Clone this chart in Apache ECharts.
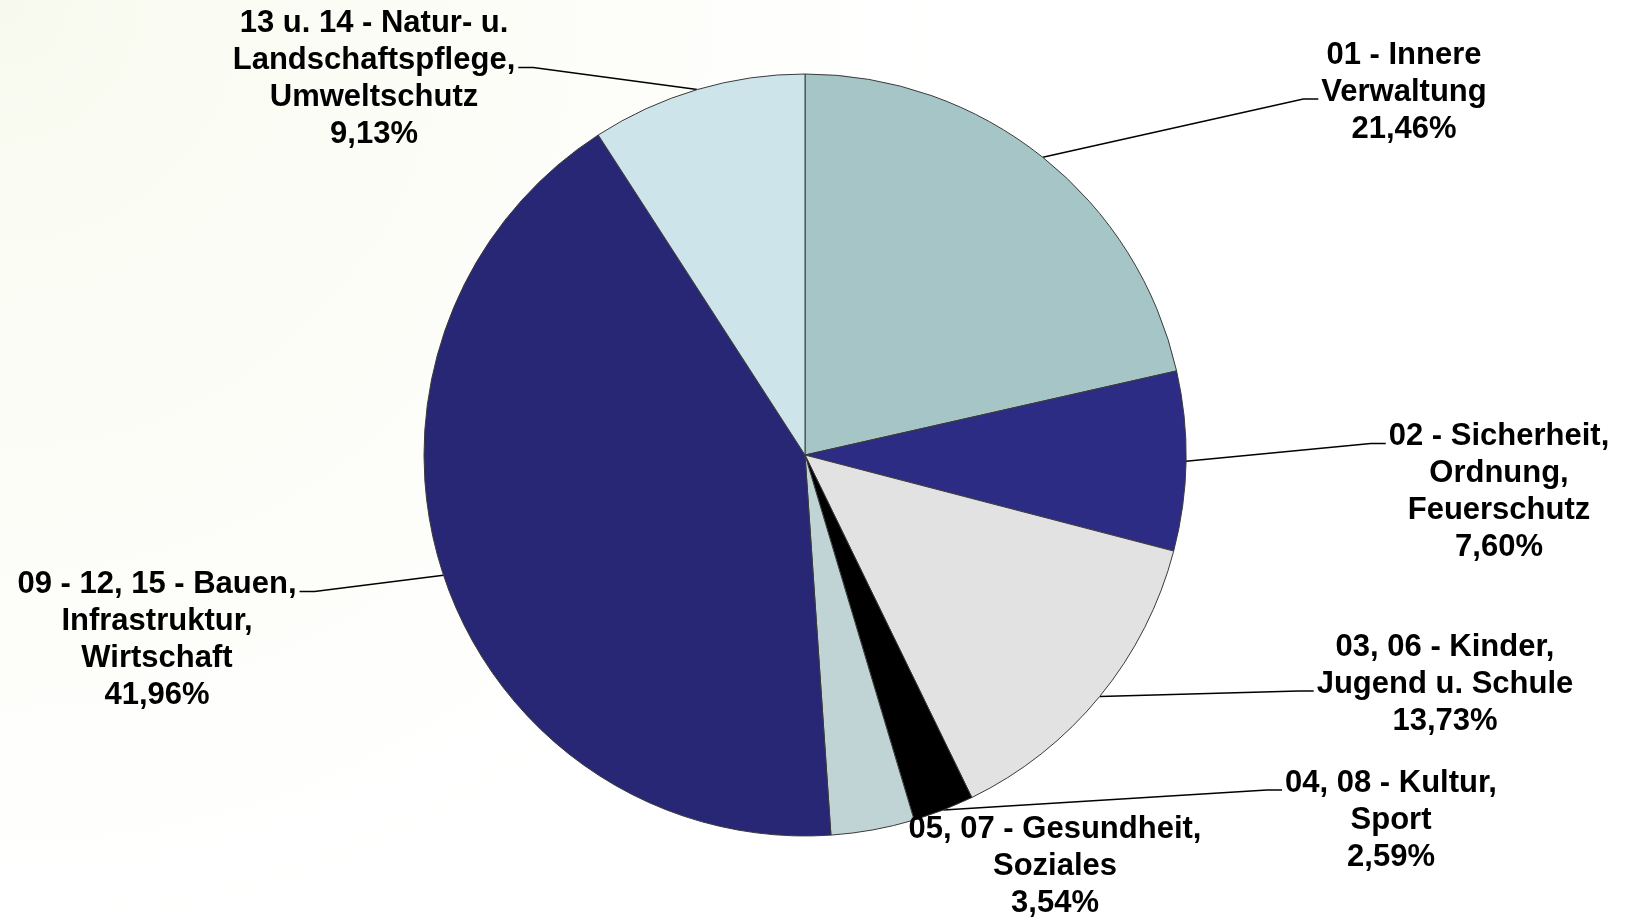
<!DOCTYPE html>
<html>
<head>
<meta charset="utf-8">
<script src="https://cdn.jsdelivr.net/npm/echarts@6/dist/echarts.min.js"></script>
<style>
html, body { margin: 0; padding: 0; }
#c { width: 1626px; height: 918px; background: radial-gradient(circle at 0% 0%, #f8f9ee 0%, #fcfdf7 25%, #ffffff 50%); }
</style>
</head>
<body>
<div id="c"></div>
<script>
// Categories (with the reference's line breaks) and their shares in percent
const categories = [
  '01 - Innere\nVerwaltung',
  '02 - Sicherheit,\nOrdnung,\nFeuerschutz',
  '03, 06 - Kinder,\nJugend u. Schule',
  '04, 08 - Kultur,\nSport',
  '05, 07 - Gesundheit,\nSoziales',
  '09 - 12, 15 - Bauen,\nInfrastruktur,\nWirtschaft',
  '13 u. 14 - Natur- u.\nLandschaftspflege,\nUmweltschutz'
];
const shares = [21.46, 7.60, 13.73, 2.59, 3.54, 41.96, 9.13];

// Styling
const sliceColors = ['#a5c5c7', '#2d2c84', '#e2e2e2', '#000000', '#c0d4d6', '#282776', '#cde5ea'];

// Label placement (centre of each label block), side where the leader attaches, and which text line
const labelCenters = [[1404, 92], [1499, 492], [1445, 684], [1391, 820], [1055, 866], [157, 640], [374, 79]];
const leaderSide = ['left', 'left', 'left', 'left', null, 'right', 'right'];
const leaderLineIdx = [1, 0, 1, 0, 0, 0, 1];
const LH = 37;

const chart = echarts.init(document.getElementById('c'), null, { renderer: 'canvas' });

const data = categories.map((name, i) => ({
  name: name,
  value: shares[i],
  itemStyle: { color: sliceColors[i] },
  labelLine: { show: leaderSide[i] !== null }
}));

chart.setOption({
  backgroundColor: 'transparent',
  animation: false,
  series: [{
    type: 'pie',
    center: [805, 455],
    radius: 381,
    startAngle: 90,
    clockwise: true,
    avoidLabelOverlap: false,
    data: data,
    itemStyle: { borderColor: '#3a3a3a', borderWidth: 1 },
    label: {
      show: true,
      position: 'outside',
      alignTo: 'none',
      color: '#000',
      fontSize: 31,
      fontWeight: 'bold',
      fontFamily: '"Liberation Sans", Arial, sans-serif',
      lineHeight: LH,
      align: 'center',
      formatter: p => p.name + '\n' + p.value.toFixed(2).replace('.', ',') + '%'
    },
    labelLine: {
      show: true,
      length: 20,
      length2: 20,
      smooth: false,
      lineStyle: { color: '#000', width: 1.5 }
    },
    emphasis: { disabled: true },
    labelLayout: function (p) {
      const i = p.dataIndex;
      const cx = labelCenters[i][0], cy = labelCenters[i][1];
      const w = p.labelRect.width, h = p.labelRect.height;
      const res = { x: cx, y: cy, align: 'center', verticalAlign: 'middle' };
      if (leaderSide[i] && p.labelLinePoints) {
        const a = p.labelLinePoints[0];
        const top = cy - h / 2;
        const ly = top + (leaderLineIdx[i] + 0.5) * LH + 7;
        const edge = leaderSide[i] === 'left' ? cx - w / 2 - 3 : cx + w / 2 + 3;
        const bend = leaderSide[i] === 'left' ? edge - 15 : edge + 15;
        res.labelLinePoints = [[a[0], a[1]], [bend, ly], [edge, ly]];
      }
      return res;
    }
  }]
});
</script>
</body>
</html>
